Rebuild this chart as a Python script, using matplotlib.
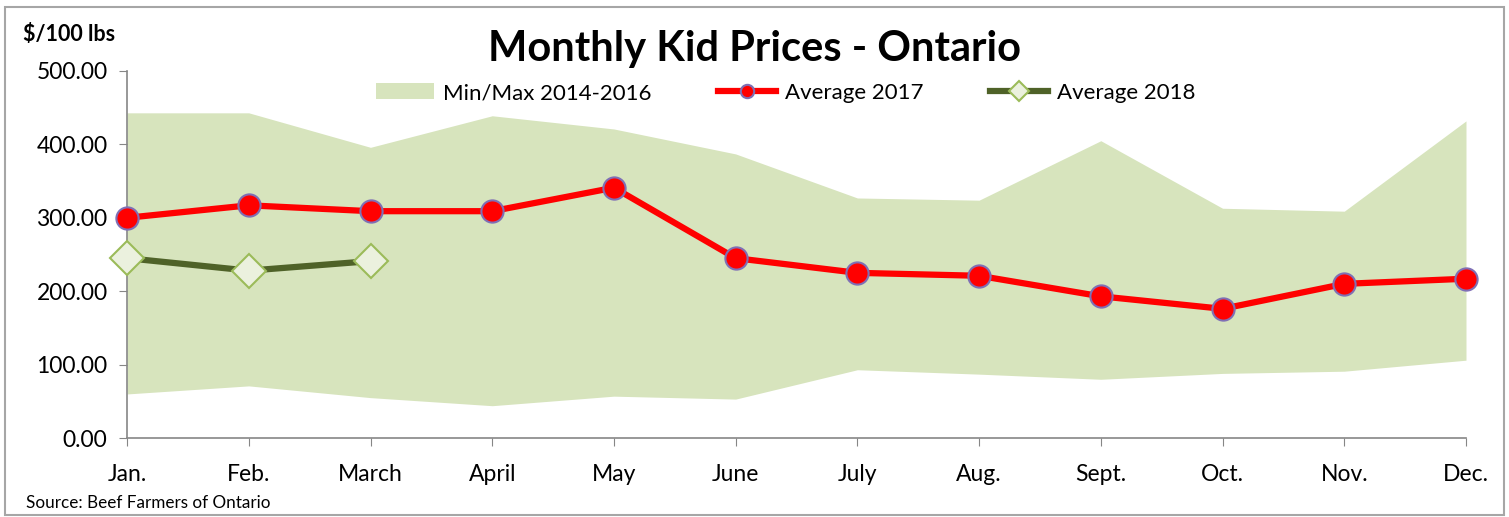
import matplotlib.pyplot as plt
from matplotlib.patches import Rectangle

plt.rcParams['font.family'] = ['Lato', 'DejaVu Sans']

months = ["Jan.", "Feb.", "March", "April", "May", "June", "July",
          "Aug.", "Sept.", "Oct.", "Nov.", "Dec."]
max_2014_2016 = [443, 443, 396, 439, 421, 387, 327, 324, 405, 313, 309, 432]
min_2014_2016 = [60, 71, 55, 44, 57, 53, 93, 87, 80, 88, 91, 106]
avg_2017 = [300, 317, 309, 309, 341, 245, 225, 221, 193, 176, 210, 217]
avg_2018 = [245, 228, 241]

x = list(range(len(months)))

fig = plt.figure(figsize=(15.09, 5.17), dpi=100)
ax = fig.add_axes([0.0842, 0.1528, 0.8873, 0.7099])

ax.fill_between(x, min_2014_2016, max_2014_2016, color="#D7E4BD", lw=0,
                label="Min/Max 2014-2016")
ax.plot(x, avg_2017, color="#FF0000", lw=4.5, marker="o", markersize=16,
        markerfacecolor="#FF0000", markeredgecolor="#7F6FB5", markeredgewidth=1.5,
        label="Average 2017", zorder=3)
ax.plot(x[:len(avg_2018)], avg_2018, color="#4F6228", lw=4.5, marker="D",
        markersize=17, markerfacecolor="#EBF1DE", markeredgecolor="#9BBB59",
        markeredgewidth=1.5, label="Average 2018", zorder=4)

ax.set_xlim(0, 11)
ax.set_ylim(0, 500)
ax.set_xticks(x)
ax.set_xticklabels(months, fontsize=16.5)
ax.set_yticks([0, 100, 200, 300, 400, 500])
ax.set_yticklabels([f"{v:.2f}" for v in [0, 100, 200, 300, 400, 500]], fontsize=16.5)
ax.tick_params(axis="both", direction="out", length=6, color="#868686", pad=8)
ax.tick_params(axis="x", pad=13)
for s in ["top", "right"]:
    ax.spines[s].set_visible(False)
for s in ["left", "bottom"]:
    ax.spines[s].set_color("#868686")
    ax.spines[s].set_linewidth(1.2)
for ln in ax.lines:
    ln.set_clip_on(False)

ax.legend(loc="center", bbox_to_anchor=(0.492, 0.94), ncol=3, frameon=False,
          fontsize=16, handlelength=2.6, handletextpad=0.4, columnspacing=3.0,
          markerscale=0.6)

fig.text(0.5, 0.905, "Monthly Kid Prices - Ontario", ha="center", va="center",
         fontsize=30, fontweight="bold")
fig.text(0.015, 0.933, "$/100 lbs", ha="left", va="center", fontsize=15.5,
         fontweight="bold")
fig.text(0.017, 0.027, "Source: Beef Farmers of Ontario", ha="left", va="center",
         fontsize=12.3)

fig.patches.append(Rectangle((0.003, 0.004), 0.994, 0.983, transform=fig.transFigure,
                             fill=False, edgecolor="#A6A6A6", lw=1.5))

fig.savefig("out.png", dpi=100)
